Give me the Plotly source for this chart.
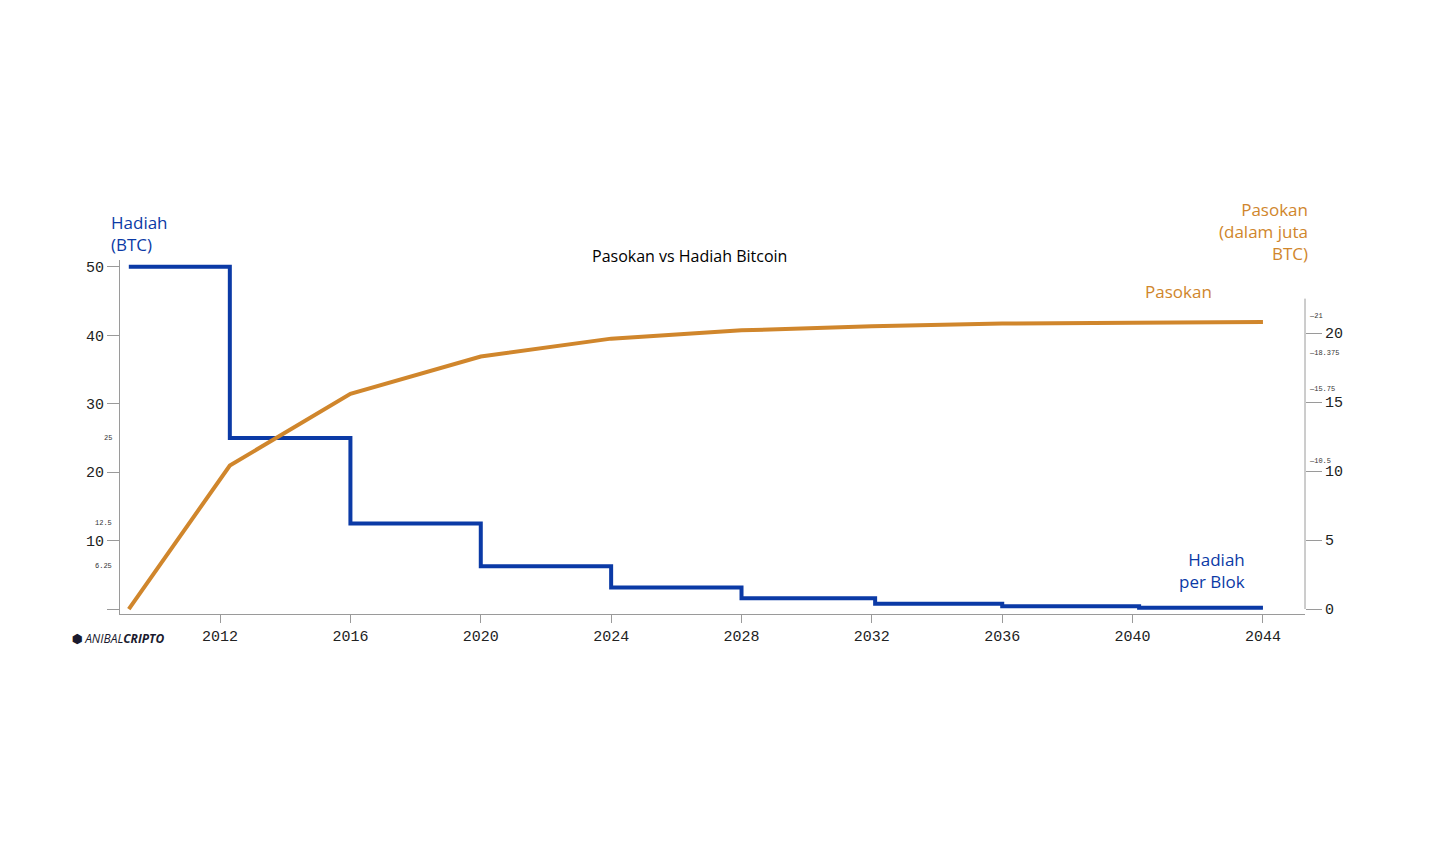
import plotly.graph_objects as go

# block reward steps (year, BTC)
reward_years = [2009.2, 2012.3, 2012.3, 2016.0, 2016.0, 2020.0, 2020.0, 2024.0, 2024.0,
                2028.0, 2028.0, 2032.1, 2032.1, 2036.0, 2036.0, 2040.2, 2040.2, 2044.0]
reward_btc = [50, 50, 25, 25, 12.5, 12.5, 6.25, 6.25, 3.125, 3.125,
              1.5625, 1.5625, 0.78, 0.78, 0.39, 0.39, 0.2, 0.2]

# supply in million BTC
supply_years = [2009.2, 2012.3, 2016.0, 2020.0, 2024.0, 2028.0, 2032.0, 2036.0, 2040.0, 2044.0]
supply_mbtc = [0.0, 10.4, 15.6, 18.3, 19.6, 20.2, 20.5, 20.7, 20.75, 20.8]

year_ticks = [2012, 2016, 2020, 2024, 2028, 2032, 2036, 2040, 2044]
left_ticks = [0, 10, 20, 30, 40, 50]
right_ticks = [0, 5, 10, 15, 20]
left_minor = [6.25, 12.5, 25]
right_minor = [10.5, 15.75, 18.375, 21]

BLUE = "#0b3aa6"
ORANGE = "#d0862c"
GREY = "#9a9a9a"
mono = "Liberation Mono"

fig = go.Figure()
fig.add_trace(go.Scatter(x=supply_years, y=supply_mbtc, yaxis="y2", mode="lines",
                         line=dict(color=ORANGE, width=4)))
fig.add_trace(go.Scatter(x=reward_years, y=reward_btc, mode="lines",
                         line=dict(color=BLUE, width=4)))

fig.update_layout(
    width=1440, height=864, showlegend=False,
    paper_bgcolor="white", plot_bgcolor="white",
    margin=dict(l=112, r=143, t=252, b=258),
    xaxis=dict(range=[2008.93, 2045.29], tickvals=year_ticks, showgrid=False, zeroline=False,
               showline=True, linecolor=GREY, ticks="outside", tickcolor=GREY, ticklen=8,
               tickfont=dict(family=mono, size=15, color="#222")),
    yaxis=dict(range=[-0.73, 51], tickvals=left_ticks, ticktext=["", "10", "20", "30", "40", "50"],
               showgrid=False, zeroline=False, showline=True, linecolor=GREY,
               ticks="outside", tickcolor=GREY, ticklen=12,
               tickfont=dict(family=mono, size=15, color="#222")),
    yaxis2=dict(range=[-0.36, 25.3], overlaying="y", side="right", tickvals=right_ticks,
                showgrid=False, zeroline=False, showline=False,
                ticks="outside", tickcolor=GREY, ticklen=16,
                tickfont=dict(family=mono, size=15, color="#222")),
    font=dict(family="Open Sans"),
)

# right axis line (partial)
fig.add_shape(type="line", xref="paper", yref="y2", x0=1.0, x1=1.0, y0=0, y1=22.5,
              line=dict(color=GREY, width=1))

# small minor labels
for v in left_minor:
    fig.add_annotation(x=0, xref="paper", y=v, yref="y", text=f"{v:g}",
                       showarrow=False, xanchor="right", xshift=-6,
                       font=dict(family=mono, size=7, color="#333"))
for v in right_minor:
    fig.add_annotation(x=1.0, xref="paper", y=v, yref="y2", text=f"—{v:g}",
                       showarrow=False, xanchor="left", xshift=2, yshift=3,
                       font=dict(family=mono, size=7, color="#333"))

fig.add_annotation(x=0.481, xref="paper", y=1.048, yref="paper", text="Pasokan vs Hadiah Bitcoin",
                   showarrow=False, font=dict(size=16, color="black"))
fig.add_annotation(x=-0.009, xref="paper", y=1.145, yref="paper", yanchor="top",
                   text="Hadiah<br>(BTC)", showarrow=False, xanchor="left", align="left",
                   font=dict(size=17, color=BLUE))
fig.add_annotation(x=1.004, xref="paper", y=1.18, yref="paper", yanchor="top",
                   text="Pasokan<br>(dalam juta<br>BTC)", showarrow=False, xanchor="right",
                   align="right", font=dict(size=17, color=ORANGE))
fig.add_annotation(x=2041.4, y=23.0, yref="y2", text="Pasokan", showarrow=False,
                   font=dict(size=17, color=ORANGE))
fig.add_annotation(x=2043.5, y=5.7, text="Hadiah<br>per Blok", showarrow=False,
                   align="right", xanchor="right",
                   font=dict(size=17, color=BLUE))
fig.add_annotation(x=-0.042, xref="paper", y=-0.1, yref="paper", xanchor="left",
                   text="<b>⬢</b> <i>ANIBAL<b>CRIPTO</b></i>", showarrow=False,
                   font=dict(size=12, color="#1a1a2e"))

fig.write_html("out.html")
